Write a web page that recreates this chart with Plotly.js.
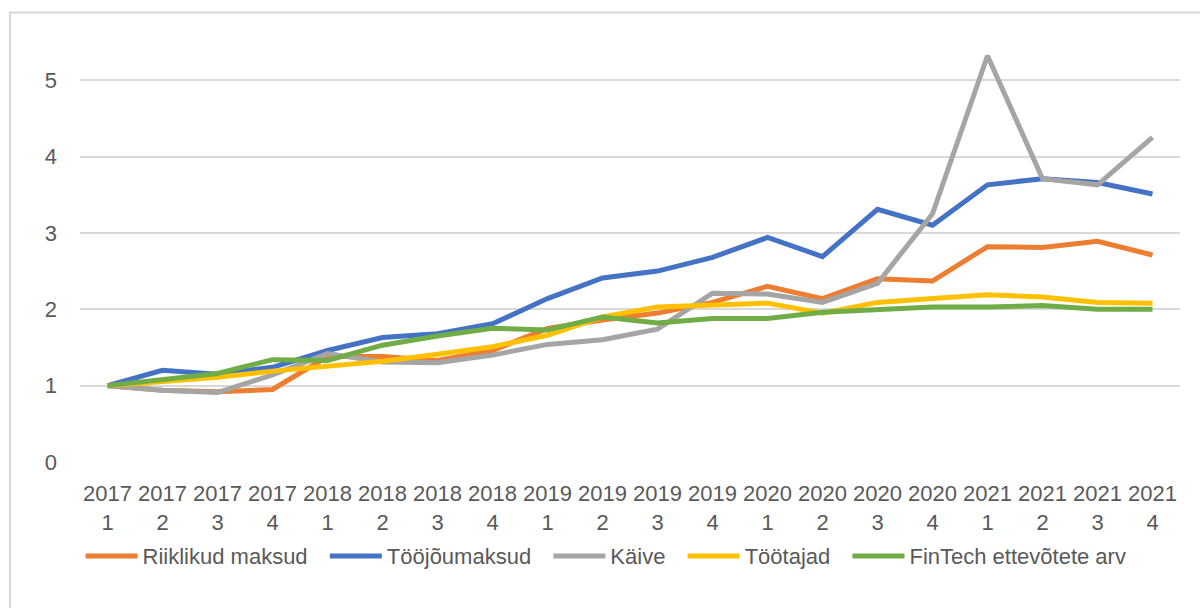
<!DOCTYPE html>
<html>
<head>
<meta charset="utf-8">
<script src="https://cdn.plot.ly/plotly-3.0.1.min.js"></script>
<style>
  html, body { margin: 0; padding: 0; background: #fff; }
  #chart { width: 1200px; height: 608px; }
</style>
</head>
<body>
<div id="chart"></div>
<script>
// Quarters 2017 Q1 .. 2021 Q4, index 2017 Q1 = 1
const years = ['2017', '2017', '2017', '2017', '2018', '2018', '2018', '2018', '2019', '2019',
  '2019', '2019', '2020', '2020', '2020', '2020', '2021', '2021', '2021', '2021'];
const quarters = ['1', '2', '3', '4', '1', '2', '3', '4', '1', '2', '3', '4', '1', '2', '3', '4', '1', '2', '3', '4'];

const riiklikudMaksud = [1.00, 0.94, 0.92, 0.95, 1.38, 1.38, 1.33, 1.46, 1.75, 1.86,
  1.95, 2.09, 2.30, 2.14, 2.40, 2.37, 2.82, 2.81, 2.89, 2.71];
const tooJouMaksud = [1.00, 1.20, 1.15, 1.24, 1.46, 1.63, 1.68, 1.81, 2.14, 2.41,
  2.50, 2.68, 2.94, 2.69, 3.31, 3.10, 3.63, 3.71, 3.66, 3.51];
const kaive = [1.00, 0.94, 0.91, 1.14, 1.42, 1.31, 1.30, 1.40, 1.54, 1.60,
  1.74, 2.21, 2.20, 2.09, 2.34, 3.25, 5.32, 3.71, 3.63, 4.25];
const tootajad = [1.00, 1.06, 1.11, 1.19, 1.25, 1.32, 1.41, 1.51, 1.66, 1.90,
  2.03, 2.06, 2.08, 1.95, 2.09, 2.14, 2.19, 2.16, 2.09, 2.08];
const fintechArv = [1.00, 1.08, 1.16, 1.34, 1.33, 1.53, 1.65, 1.75, 1.73, 1.90,
  1.82, 1.88, 1.88, 1.96, 2.00, 2.03, 2.03, 2.05, 2.00, 2.00];

const seriesNames = ['Riiklikud maksud', 'Tööjõumaksud', 'Käive', 'Töötajad', 'FinTech ettevõtete arv'];
const seriesValues = [riiklikudMaksud, tooJouMaksud, kaive, tootajad, fintechArv];
const seriesColors = ['#ed7d31', '#4472c4', '#a5a5a5', '#ffc000', '#70ad47'];

const xIdx = years.map((_, i) => i);
const tickText = years.map((y, i) => `${y}<br>${quarters[i]}`);

// trailing nbsp widens the gap between legend entries, like Excel does
const traces = seriesValues.map((vals, k) => ({
  x: xIdx,
  y: vals,
  name: k < seriesNames.length - 1 ? seriesNames[k] + '\u00a0\u00a0' : seriesNames[k],
  type: 'scatter',
  mode: 'lines',
  line: { color: seriesColors[k], width: 5, shape: 'linear' },
  cliponaxis: false,
}));

const FONT = 'Liberation Sans, Arial, sans-serif';

const layout = {
  width: 1200,
  height: 608,
  paper_bgcolor: '#ffffff',
  plot_bgcolor: '#ffffff',
  margin: { t: 42, r: 20, b: 146, l: 80 },
  font: { family: FONT, size: 22, color: '#595959' },
  showlegend: true,
  xaxis: {
    range: [-0.5, 19.5],
    tickvals: xIdx,
    ticktext: tickText,
    tickfont: { size: 22, color: '#595959' },
    showgrid: false,
    zeroline: false,
    showline: false,
    ticks: '',
    ticklabelstandoff: 16,
    fixedrange: true,
  },
  yaxis: {
    range: [0, 5.5],
    tickvals: [0, 1, 2, 3, 4, 5],
    tickfont: { size: 22, color: '#595959' },
    showgrid: true,
    gridcolor: '#d9d9d9',
    gridwidth: 2,
    zeroline: false,
    showline: false,
    ticks: '',
    ticklabelstandoff: 22,
    fixedrange: true,
  },
  legend: {
    orientation: 'h',
    x: 0.0005,
    xanchor: 'left',
    y: -0.224,
    yanchor: 'middle',
    itemwidth: 52,
    font: { family: FONT, size: 22, color: '#595959' },
    bgcolor: 'rgba(0,0,0,0)',
    traceorder: 'normal',
  },
  shapes: [{
    type: 'path',
    xref: 'paper',
    yref: 'paper',
    path: 'M -0.0636,-0.4 L -0.0636,1.0702 L 1.03,1.0702',
    line: { color: '#d9d9d9', width: 2 },
  }],
};

Plotly.newPlot('chart', traces, layout, { staticPlot: true, displayModeBar: false });
</script>
</body>
</html>
